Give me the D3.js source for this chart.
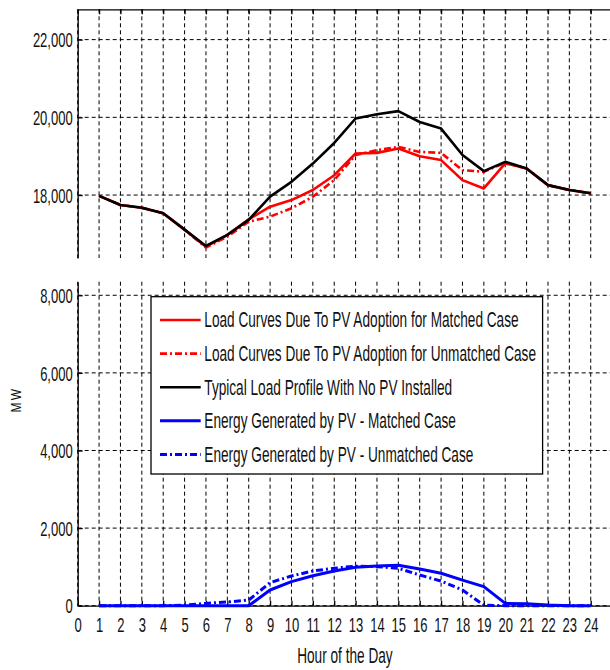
<!DOCTYPE html>
<html>
<head>
<meta charset="utf-8">
<script src="https://cdn.jsdelivr.net/npm/d3@7"></script>
<style>
  html, body { margin: 0; padding: 0; background: #fff; }
  svg { display: block; }
</style>
</head>
<body>
<svg id="chart" width="610" height="670"></svg>
<script>
// Hourly demand and PV output (MW)
const hours = d3.range(1, 25);
const loadNoPV      = [17980, 17745, 17675, 17530, 17110, 16690, 16975, 17360, 17960, 18340, 18810, 19340,
                       19970, 20080, 20160, 19880, 19710, 19030, 18615, 18855, 18685, 18255, 18130, 18045];
const loadMatched   = [17980, 17745, 17675, 17530, 17110, 16670, 16970, 17375, 17700, 17870, 18130, 18510,
                       19070, 19085, 19200, 19000, 18900, 18385, 18170, 18815, 18685, 18255, 18130, 18045];
const loadUnmatched = [17980, 17745, 17675, 17530, 17105, 16650, 16930, 17315, 17445, 17660, 17955, 18385,
                       19030, 19155, 19240, 19110, 19085, 18640, 18600, 18830, 18685, 18255, 18130, 18045];
const pvMatched     = [0, 0, 0, 0, 0, 0, 0, 0, 405, 620, 770, 895,
                       990, 1025, 1040, 945, 835, 660, 490, 60, 50, 15, 0, 0];
const pvUnmatched   = [0, 0, 0, 0, 15, 60, 95, 145, 595, 765, 895, 965,
                       1020, 1005, 965, 790, 635, 405, 15, 0, 0, 0, 0, 0];

const hourTicks = d3.range(0, 25);
const loadTicks = [18000, 20000, 22000];
const pvTicks   = [0, 2000, 4000, 6000, 8000];

const legendLabels = [
  "Load Curves Due To PV Adoption for Matched Case",
  "Load Curves Due To PV Adoption for Unmatched Case",
  "Typical Load Profile With No PV Installed",
  "Energy Generated by PV - Matched Case",
  "Energy Generated by PV - Unmatched Case"
];

// ---- layout ----
const FONT = "'Liberation Sans', Arial, sans-serif";
const SX = 0.62;                 // horizontal squeeze for the condensed lettering
const left = 77.7, right = 612.1;
const top1 = 9.3, bot1 = 258;    // load panel
const top2 = 281.7, bot2 = 605.7; // PV panel

const svg = d3.select("#chart");
svg.append("rect").attr("width", 610).attr("height", 670).attr("fill", "#fff");

const x = d3.scaleLinear().domain([0, 25]).range([left, right]);
const yLoad = d3.scaleLinear().domain([16380, 22780]).range([bot1, top1]);
const yPV = d3.scaleLinear().domain([0, 8350]).range([bot2, top2]);

const fmt = d3.format(",");

function squeeze(sel, sx) {
  sel.each(function () {
    const t = d3.select(this);
    const xv = +t.attr("x") || 0;
    t.attr("x", xv / sx).attr("transform", `scale(${sx},1)`);
  });
}

function grid(g, yScale, yTicks, y0, y1) {
  const gg = g.append("g")
    .attr("stroke", "#000").attr("stroke-width", 1)
    .attr("stroke-dasharray", "4,3").attr("fill", "none");
  gg.selectAll("line.v").data(hourTicks).join("line").attr("class", "v")
    .attr("x1", d => x(d)).attr("x2", d => x(d))
    .attr("y1", y0).attr("y2", y1);
  gg.selectAll("line.h").data(yTicks).join("line").attr("class", "h")
    .attr("x1", left).attr("x2", 610)
    .attr("y1", d => yScale(d)).attr("y2", d => yScale(d));
}

const lineGen = yScale => d3.line().x((d, i) => x(hours[i])).y(d => yScale(d));

const styles = {
  red:   { color: "#ff0000", width: 2.6 },
  black: { color: "#000000", width: 2.6 },
  blue:  { color: "#0000ff", width: 3 }
};
const DASHDOT = "7,3,2,3";

// ---- load panel ----
const p1 = svg.append("g");
grid(p1, yLoad, loadTicks, top1, bot1);

const series1 = [
  { data: loadMatched, s: styles.red, dash: null },
  { data: loadUnmatched, s: styles.red, dash: DASHDOT },
  { data: loadNoPV, s: styles.black, dash: null }
];
series1.forEach(d => {
  p1.append("path").datum(d.data)
    .attr("d", lineGen(yLoad))
    .attr("fill", "none")
    .attr("stroke", d.s.color).attr("stroke-width", d.s.width)
    .attr("stroke-dasharray", d.dash)
    .attr("stroke-linejoin", "round");
});

// left axis
const ax1 = p1.append("g").attr("transform", `translate(${left},0)`)
  .call(d3.axisLeft(yLoad).tickValues(loadTicks).tickSize(-5).tickSizeOuter(0).tickPadding(5).tickFormat(fmt));
// top border
p1.append("g").attr("transform", `translate(0,${top1})`)
  .call(d3.axisTop(x).tickValues(hourTicks).tickSize(-5).tickSizeOuter(0).tickFormat(""));
p1.selectAll(".domain, .tick line").attr("stroke", "#000").attr("stroke-width", 1.3);

// ---- PV panel ----
const p2 = svg.append("g");
grid(p2, yPV, pvTicks, top2, bot2);

const series2 = [
  { data: pvMatched, s: styles.blue, dash: null },
  { data: pvUnmatched, s: styles.blue, dash: DASHDOT }
];

const ax2 = p2.append("g").attr("transform", `translate(${left},0)`)
  .call(d3.axisLeft(yPV).tickValues(pvTicks).tickSize(-5).tickSizeOuter(0).tickPadding(5).tickFormat(fmt));
const ax3 = p2.append("g").attr("transform", `translate(0,${bot2})`)
  .call(d3.axisBottom(x).tickValues(hourTicks).tickSize(-5).tickSizeOuter(0).tickPadding(11).tickFormat(d3.format("d")));
p2.selectAll(".domain, .tick line").attr("stroke", "#000").attr("stroke-width", 1.3);

series2.forEach(d => {
  p2.append("path").datum(d.data)
    .attr("d", lineGen(yPV))
    .attr("fill", "none")
    .attr("stroke", d.s.color).attr("stroke-width", d.s.width)
    .attr("stroke-dasharray", d.dash)
    .attr("stroke-linejoin", "round");
});

// tick label typography
[ax1, ax2, ax3].forEach(a => {
  a.selectAll("text")
    .attr("font-family", FONT).attr("font-size", 21).attr("fill", "#111");
});
[ax1, ax2].forEach(a => a.selectAll("text").attr("dy", "0.34em").call(squeeze, SX));
ax3.selectAll("text").attr("dy", "0.72em").call(squeeze, SX);

// ---- legend ----
const lg = svg.append("g");
lg.append("rect")
  .attr("x", 151).attr("y", 296.7).attr("width", 391.6).attr("height", 177.3)
  .attr("fill", "#fff").attr("stroke", "#000").attr("stroke-width", 1.3);
const legendItems = [
  { s: styles.red, dash: null },
  { s: styles.red, dash: DASHDOT },
  { s: styles.black, dash: null },
  { s: styles.blue, dash: null },
  { s: styles.blue, dash: DASHDOT }
];
legendItems.forEach((it, i) => {
  const cy = 320 + i * 33.6;
  lg.append("line")
    .attr("x1", 160).attr("x2", 200.7).attr("y1", cy).attr("y2", cy)
    .attr("stroke", it.s.color).attr("stroke-width", it.s.width)
    .attr("stroke-dasharray", it.dash);
  lg.append("g").attr("transform", `translate(204.3,${cy})`)
    .append("text")
    .attr("transform", `scale(${SX},1)`)
    .attr("dy", "0.34em")
    .attr("font-family", FONT).attr("font-size", 22).attr("fill", "#111")
    .text(legendLabels[i]);
});

// ---- axis titles ----
svg.append("g").attr("transform", `translate(${(left + right) / 2},662.5)`)
  .append("text").attr("transform", `scale(${SX},1)`)
  .attr("text-anchor", "middle")
  .attr("font-family", FONT).attr("font-size", 22).attr("fill", "#111")
  .text("Hour of the Day");

svg.append("g").attr("transform", "translate(20.7,399.5) rotate(-90)")
  .append("text").attr("transform", "scale(0.8,1)")
  .attr("text-anchor", "middle")
  .attr("letter-spacing", 3)
  .attr("font-family", FONT).attr("font-size", 15).attr("fill", "#111")
  .text("MW");
</script>
</body>
</html>
